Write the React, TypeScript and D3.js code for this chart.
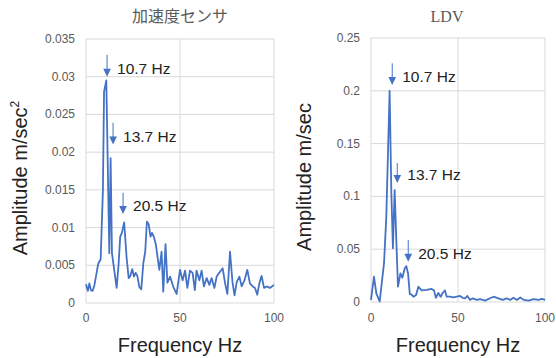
import * as d3 from 'd3';
import { type FC } from 'react';

// [frequency Hz, amplitude]
const accelSpectrum: [number, number][] = [
  [0, 0.0025], [1, 0.0016], [1.8, 0.0026], [2.6, 0.0017], [3.5, 0.0016],
  [4.5, 0.0024], [5.5, 0.0038], [6.5, 0.0052], [7.8, 0.0058], [9.0, 0.015],
  [9.6, 0.028], [10.8, 0.0295], [12.4, 0.0066], [13.1, 0.0192], [13.8, 0.0066],
  [14.8, 0.0048], [16.3, 0.002], [17.3, 0.005], [18.2, 0.0088], [19.1, 0.0093],
  [20.3, 0.0107], [21.6, 0.006], [22.7, 0.0033], [23.6, 0.0036], [24.6, 0.0045],
  [25.5, 0.0035], [26.4, 0.004], [27.3, 0.0036], [28.4, 0.0021], [29.4, 0.0018],
  [30.5, 0.0053], [31.5, 0.0068], [32.4, 0.0108], [33.4, 0.0104], [34.3, 0.0088],
  [35.1, 0.0093], [36.1, 0.0088], [37.2, 0.0077], [38.1, 0.006], [39.0, 0.0044],
  [40.2, 0.0068], [41.1, 0.0015], [42.3, 0.0078], [43.3, 0.0027], [44.7, 0.0035],
  [46.5, 0.0021], [48.2, 0.0012], [50, 0.0044], [51.4, 0.003], [52.7, 0.0043],
  [53.9, 0.002], [55.3, 0.0043], [56.7, 0.004], [57.9, 0.0017], [58.8, 0.0043],
  [60.3, 0.003], [61.5, 0.0043], [62.7, 0.0022], [64.2, 0.0033], [65.6, 0.0024],
  [66.8, 0.0033], [68.3, 0.002], [69.5, 0.0035], [70.9, 0.004], [72.7, 0.0046],
  [74.0, 0.0026], [75.2, 0.0012], [76.6, 0.0068], [77.9, 0.0028], [79.0, 0.001],
  [80.2, 0.0028], [81.6, 0.0035], [82.8, 0.0022], [84.3, 0.003], [85.8, 0.0044],
  [87.2, 0.0026], [88.7, 0.0022], [89.9, 0.002], [91.1, 0.0011], [92.2, 0.0026],
  [93.4, 0.0036], [94.7, 0.002], [96.1, 0.0022], [97.9, 0.002], [100, 0.0024],
];

const ldvSpectrum: [number, number][] = [
  [0, 0.002], [1.7, 0.024], [3.1, 0.008], [5, 0.0005], [7.5, 0.037],
  [8.8, 0.081], [10.7, 0.2], [11.7, 0.103], [12.6, 0.051], [13.6, 0.106],
  [14.6, 0.056], [15.5, 0.0145], [16.9, 0.027], [18.0, 0.023], [19.4, 0.032],
  [20.3, 0.034], [21.3, 0.027], [22.3, 0.0075], [23.4, 0.007], [24.4, 0.005],
  [25.9, 0.0066], [27.2, 0.0145], [29.1, 0.011], [32, 0.0114], [34.8, 0.0124],
  [36.2, 0.011], [37.3, 0.004], [38.7, 0.0085], [40, 0.005], [41.2, 0.0085],
  [42.5, 0.011], [43.5, 0.005], [45.4, 0.005], [47.3, 0.0043], [49.3, 0.005],
  [51.2, 0.0057], [52.7, 0.004], [54, 0.0035], [55.4, 0.0057], [56.9, 0.002],
  [58.5, 0.0035], [60.8, 0.002], [62.7, 0.0027], [65.6, 0.0013], [68.4, 0.0035],
  [70.4, 0.005], [73.2, 0.0035], [75.7, 0.002], [78, 0.0035], [80, 0.002],
  [81.9, 0.004], [83.8, 0.002], [85.8, 0.0043], [87.7, 0.002], [90.5, 0.0013],
  [93.4, 0.0027], [96.3, 0.002], [98.2, 0.003], [100, 0.002],
];

const xTicks = [0, 50, 100];
const accelYTicks = [0, 0.005, 0.01, 0.015, 0.02, 0.025, 0.03, 0.035];
const ldvYTicks = [0, 0.05, 0.1, 0.15, 0.2, 0.25];

// peak labels: [arrow freq, arrow top amp, arrow tip amp, label]
const accelPeaks: [number, number, number, string][] = [
  [11.2, 0.0329, 0.030, '10.7 Hz'],
  [14.4, 0.0239, 0.021, '13.7 Hz'],
  [19.7, 0.0146, 0.0118, '20.5 Hz'],
];
const ldvPeaks: [number, number, number, string][] = [
  [12.2, 0.226, 0.2055, '10.7 Hz'],
  [15.1, 0.1316, 0.1127, '13.7 Hz'],
  [21.4, 0.0587, 0.038, '20.5 Hz'],
];

const BLUE = '#4472C4';
const GRID = '#D9D9D9';
const TICK = '#595959';
const SANS = 'Arial, "Liberation Sans", sans-serif';

interface PanelProps {
  data: [number, number][];
  yTicks: number[];
  peaks: [number, number, number, string][];
  x0: number;
  x1: number;
  y0: number;
  y1: number;
  title: string;
  titleX: number;
  titleFont: string;
  yLabel: string;
  sup?: string;
  yLabelX: number;
}

const Panel: FC<PanelProps> = ({
  data, yTicks, peaks, x0, x1, y0, y1, title, titleX, titleFont, yLabel, sup, yLabelX,
}) => {
  const x = d3.scaleLinear().domain([0, 100]).range([x0, x1]);
  const y = d3
    .scaleLinear()
    .domain([0, yTicks[yTicks.length - 1]])
    .range([y0, y1]);
  const line = d3
    .line<[number, number]>()
    .x((d) => x(d[0]))
    .y((d) => y(d[1]));
  const fmt = (v: number) => (v === 0 ? '0' : String(+v.toFixed(3)));
  const yMid = (y0 + y1) / 2 + 7;

  return (
    <g>
      <text x={titleX} y={22} textAnchor="middle" fill={TICK} fontSize={16} fontFamily={titleFont}>
        {title}
      </text>
      {yTicks.map((t) => (
        <g key={t}>
          <line x1={x0} x2={x1} y1={y(t)} y2={y(t)} stroke={GRID} strokeWidth={1} />
          <text x={x0 - 11} y={y(t) + 4} textAnchor="end" fill={TICK} fontSize={12} fontFamily={SANS}>
            {fmt(t)}
          </text>
        </g>
      ))}
      {xTicks.map((t) => (
        <g key={t}>
          <line x1={x(t)} x2={x(t)} y1={y0} y2={y1} stroke={GRID} strokeWidth={1} />
          <text x={x(t)} y={322} textAnchor="middle" fill={TICK} fontSize={12} fontFamily={SANS}>
            {t}
          </text>
        </g>
      ))}
      <path d={line(data) ?? ''} fill="none" stroke={BLUE} strokeWidth={1.8} strokeLinejoin="round" />
      {peaks.map(([f, top, tip, label]) => {
        const px = x(f);
        const ty = y(tip);
        return (
          <g key={label}>
            <line x1={px} x2={px} y1={y(top)} y2={ty - 6} stroke={BLUE} strokeWidth={1} />
            <path d={`M${px - 3.8},${ty - 8}L${px + 3.8},${ty - 8}L${px},${ty}Z`} fill={BLUE} />
            <text x={px + 10} y={ty - 3} fill="#222" fontSize={15.5} fontFamily={SANS}>
              {label}
            </text>
          </g>
        );
      })}
      <text
        x={(x0 + x1) / 2}
        y={352}
        textAnchor="middle"
        fill="#222"
        fontSize={20}
        fontFamily={SANS}
      >
        Frequency Hz
      </text>
      <text
        transform={`translate(${yLabelX},${yMid}) rotate(-90)`}
        textAnchor="middle"
        fill="#222"
        fontSize={20}
        fontFamily={SANS}
      >
        {yLabel}
        {sup && (
          <tspan fontSize={12} dy={-8}>
            {sup}
          </tspan>
        )}
      </text>
    </g>
  );
};

const App: FC = () => (
  <svg
    width={556}
    height={358}
    style={{ position: 'absolute', left: 0, top: 0, background: '#fff' }}
  >
    <Panel
      data={accelSpectrum}
      yTicks={accelYTicks}
      peaks={accelPeaks}
      x0={86}
      x1={274}
      y0={303}
      y1={39}
      title="加速度センサ"
      titleX={180}
      titleFont='"Noto Sans CJK JP", sans-serif'
      yLabel="Amplitude m/sec"
      sup="2"
      yLabelX={27}
    />
    <Panel
      data={ldvSpectrum}
      yTicks={ldvYTicks}
      peaks={ldvPeaks}
      x0={371}
      x1={545}
      y0={302}
      y1={38}
      title="LDV"
      titleX={447}
      titleFont='"Liberation Serif", "Times New Roman", serif'
      yLabel="Amplitude m/sec"
      yLabelX={311}
    />
  </svg>
);

export default App;
